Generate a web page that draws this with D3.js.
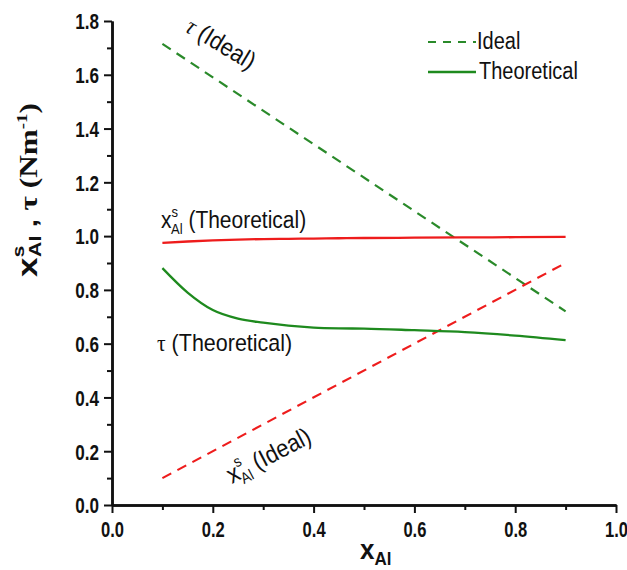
<!DOCTYPE html>
<html>
<head>
<meta charset="utf-8">
<script src="https://cdn.jsdelivr.net/npm/d3@7"></script>
<style>
  html, body { margin: 0; padding: 0; background: #fff; }
  svg { display: block; }
  text { font-family: "Liberation Sans", Arial, sans-serif; fill: #111; }
</style>
</head>
<body>
<svg id="chart" width="627" height="570"></svg>
<script>
// Composition data
const xIdeal = [0.1, 0.9];
const tauIdeal = [1.715, 0.72];
const xsIdeal = [0.1, 0.9];

const xTheo = [0.1, 0.15, 0.2, 0.25, 0.3, 0.35, 0.4, 0.45, 0.5, 0.6, 0.7, 0.8, 0.9];
const tauTheo = [0.881, 0.79, 0.725, 0.693, 0.678, 0.667, 0.660, 0.657, 0.656, 0.650, 0.643, 0.630, 0.613];
const xsTheo = [0.975, 0.980, 0.984, 0.987, 0.989, 0.990, 0.991, 0.992, 0.993, 0.994, 0.995, 0.996, 0.997];

const xMajorTicks = [0, 0.2, 0.4, 0.6, 0.8, 1.0];
const xMinorTicks = [0.1, 0.3, 0.5, 0.7, 0.9];
const yMajorTicks = [0, 0.2, 0.4, 0.6, 0.8, 1.0, 1.2, 1.4, 1.6, 1.8];
const yMinorTicks = [0.1, 0.3, 0.5, 0.7, 0.9, 1.1, 1.3, 1.5, 1.7];

const RED = "#ee1c1c";
const GREEN = "#1e8a1e";
const GREEN_DASH = "#2a8a2a";

const svg = d3.select("#chart");
const x = d3.scaleLinear().domain([0, 1]).range([112, 616]);
const y = d3.scaleLinear().domain([0, 1.8]).range([505, 21]);

// Axes
function styleAxis(g) {
  g.select(".domain").attr("stroke", "#111").attr("stroke-width", 2.5);
  g.selectAll(".tick line").attr("stroke", "#111").attr("stroke-width", 2);
}
const xMinor = svg.append("g").attr("transform", "translate(0,505)")
  .call(d3.axisBottom(x).tickValues(xMinorTicks).tickSize(5).tickSizeOuter(0).tickFormat(""));
styleAxis(xMinor);
const yMinor = svg.append("g").attr("transform", "translate(112,0)")
  .call(d3.axisLeft(y).tickValues(yMinorTicks).tickSize(5).tickSizeOuter(0).tickFormat(""));
styleAxis(yMinor);

const xAxis = svg.append("g").attr("transform", "translate(0,505)")
  .call(d3.axisBottom(x).tickValues(xMajorTicks).tickSize(8).tickSizeOuter(0).tickFormat(d3.format(".1f")));
styleAxis(xAxis);
xAxis.selectAll(".tick text")
  .attr("font-size", 18).attr("font-weight", "bold").attr("fill", "#111")
  .attr("y", 0).attr("dy", 0)
  .attr("transform", "translate(0,32) scale(0.92,1.25)");

const yAxis = svg.append("g").attr("transform", "translate(112,0)")
  .call(d3.axisLeft(y).tickValues(yMajorTicks).tickSize(8).tickSizeOuter(0).tickFormat(d3.format(".1f")));
styleAxis(yAxis);
yAxis.selectAll(".tick text")
  .attr("font-size", 18).attr("font-weight", "bold").attr("fill", "#111")
  .attr("x", 0).attr("dy", 0)
  .attr("transform", "translate(-13,7.8) scale(0.95,1.25)");

// Series
const line = d3.line().x(d => x(d[0])).y(d => y(d[1]));
const smooth = d3.line().x(d => x(d[0])).y(d => y(d[1])).curve(d3.curveMonotoneX);

svg.append("path").datum(d3.zip(xIdeal, tauIdeal))
  .attr("d", line).attr("fill", "none").attr("stroke", GREEN_DASH)
  .attr("stroke-width", 2.2).attr("stroke-dasharray", "10,7");
svg.append("path").datum(d3.zip(xIdeal, xsIdeal))
  .attr("d", line).attr("fill", "none").attr("stroke", RED)
  .attr("stroke-width", 2.2).attr("stroke-dasharray", "10,7");
svg.append("path").datum(d3.zip(xTheo, xsTheo))
  .attr("d", smooth).attr("fill", "none").attr("stroke", RED).attr("stroke-width", 2.3);
svg.append("path").datum(d3.zip(xTheo, tauTheo))
  .attr("d", smooth).attr("fill", "none").attr("stroke", GREEN).attr("stroke-width", 2.3);

// Text helper: positioned group with rotation and vertical stretch
function label(px, py, rot, parts, size, opts = {}) {
  const g = svg.append("g")
    .attr("transform", `translate(${px},${py}) rotate(${rot}) scale(${opts.sx || 1},${opts.sy || 1.12})`);
  const t = g.append("text").attr("font-size", size)
    .attr("font-weight", opts.bold ? "bold" : "normal")
    .attr("text-anchor", opts.anchor || "start");
  parts.forEach(p => {
    const s = t.append("tspan").text(p.t);
    if (p.size) s.attr("font-size", p.size);
    if (p.dy) s.attr("dy", p.dy);
    if (p.dx) s.attr("dx", p.dx);
    if (p.family) s.attr("font-family", p.family);
    if (p.style) s.attr("font-style", p.style);
  });
  return g;
}

// Series annotations
label(184, 31, 31, [{t: "τ", family: "Liberation Serif", style: "italic"}, {t: " (Ideal)"}], 22);
label(232, 484, -27.5, [
  {t: "x", size: 23},
  {t: "s", size: 14, dy: -11},
  {t: "Al", size: 14, dx: -8, dy: 16},
  {t: " (Ideal)", size: 22, dy: -5}
], 22);
label(161, 228, 0, [
  {t: "x", size: 21},
  {t: "s", size: 13, dy: -10},
  {t: "Al", size: 13, dx: -7, dy: 15},
  {t: " (Theoretical)", size: 21, dy: -5}
], 21);
label(157, 351, 0, [{t: "τ", family: "Liberation Serif"}, {t: " (Theoretical)"}], 21.5);

// Legend
svg.append("line").attr("x1", 428).attr("x2", 476).attr("y1", 42).attr("y2", 42)
  .attr("stroke", GREEN_DASH).attr("stroke-width", 2.2).attr("stroke-dasharray", "8,7");
svg.append("line").attr("x1", 428).attr("x2", 476).attr("y1", 72).attr("y2", 72)
  .attr("stroke", GREEN).attr("stroke-width", 2.3);
label(477, 49, 0, [{t: "Ideal"}], 20, {sy: 1.15});
label(479, 79, 0, [{t: "Theoretical"}], 20, {sy: 1.15});

// Axis titles
label(360, 559, 0, [
  {t: "x", size: 26},
  {t: "Al", size: 17, dy: 6}
], 26, {bold: true, sy: 1.05});

const yTitle = label(37, 277, -90, [
  {t: "x", size: 28},
  {t: "s", size: 17, dy: -13},
  {t: "Al", size: 17, dx: -9, dy: 17},
  {t: " ,  ", size: 24, dy: -4},
  {t: "τ (Nm", family: "Liberation Serif", size: 25},
  {t: "-1", family: "Liberation Serif", size: 15, dy: -10},
  {t: ")", family: "Liberation Serif", size: 25, dy: 10}
], 26, {bold: true, sy: 1});
// fit the rotated title to its span along the axis
const tb = yTitle.select("text").node().getBBox();
const k = 174 / tb.width;
yTitle.attr("transform", `translate(37,277) rotate(-90) scale(${k},1)`);
</script>
</body>
</html>
